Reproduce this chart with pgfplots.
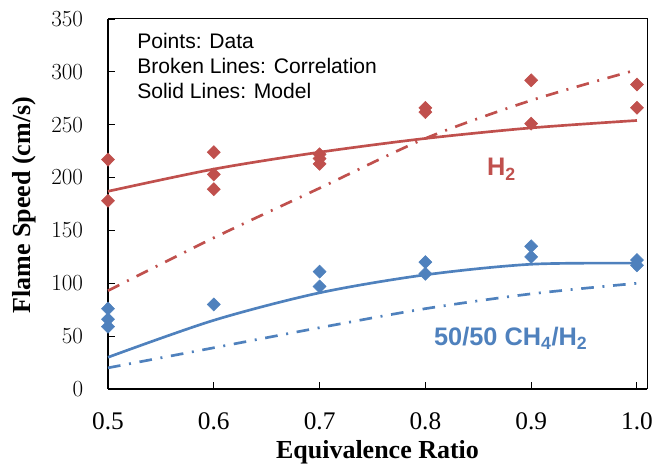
\documentclass[border=0pt]{standalone}
\usepackage{fontspec}
\setmainfont{Liberation Serif}
\setsansfont{Liberation Sans}
\usepackage{pgfplots}
\pgfplotsset{compat=1.18}
\definecolor{cred}{HTML}{C0504D}
\definecolor{cblue}{HTML}{4F81BD}
\begin{document}
\begin{tikzpicture}
\path[use as bounding box] (0,0) rectangle (492pt,349.5pt);
\begin{axis}[
  at={(81pt,57.75pt)}, anchor=south west,
  scale only axis, width=404.25pt, height=277.5pt,
  xmin=0.5, xmax=1.0095, ymin=0, ymax=350,
  axis x line*=bottom, axis y line*=left,
  axis line style={line width=1.5pt, -},
  xtick={0.5,0.6,0.7,0.8,0.9,1.0},
  xticklabels={0.5,0.6,0.7,0.8,0.9,1.0},
  ytick={0,50,...,350},
  tick align=inside,
  major tick length=5pt,
  tick style={black, line width=0.8pt},
  tick label style={font=\fontsize{19}{19}\selectfont, inner sep=0pt, text=black},
  xticklabel style={anchor=center, yshift=-24pt},
  yticklabel style={anchor=east, xshift=-18.5pt},
  xlabel={\textbf{Equivalence Ratio}},
  ylabel={\textbf{Flame Speed (cm/s)}},
  label style={font=\fontsize{19.5}{19.5}\selectfont},
  xlabel style={at={(axis description cs:0.5,-0.17)}, anchor=center, inner sep=0pt},
  ylabel style={at={(axis description cs:-0.156,0.497)}, anchor=center, rotate=0, inner sep=0pt},
  clip=false,
]
\draw[line width=0.75pt] (rel axis cs:0,1) -- (rel axis cs:1,1) -- (rel axis cs:1,0);
% H2 correlation
\addplot[cred, line width=2pt, smooth, dash pattern=on 9.5pt off 6.5pt on 1.5pt off 6.5pt] coordinates {
(0.5,93) (0.6,143) (0.7,190) (0.8,237) (0.9,273) (1.0,302)};
% H2 model
\addplot[cred, line width=2pt, smooth] coordinates {
(0.5,187) (0.6,208) (0.7,224) (0.8,237) (0.9,247) (1.0,254)};
% H2 data
\addplot[only marks, mark=diamond*, mark size=4.9pt, mark options={xscale=1.33}, color=cred, fill=cred] coordinates {
(0.5,217) (0.5,178)
(0.6,224) (0.6,203) (0.6,189)
(0.7,222) (0.7,218) (0.7,213)
(0.8,266) (0.8,262)
(0.9,292) (0.9,251)
(1.0,288) (1.0,266)};
% CH4/H2 correlation
\addplot[cblue, line width=2pt, smooth, dash pattern=on 9.5pt off 6.5pt on 1.5pt off 6.5pt] coordinates {
(0.5,20) (0.6,39) (0.7,58) (0.8,76) (0.9,90) (1.0,100)};
% CH4/H2 model
\addplot[cblue, line width=2pt, smooth] coordinates {
(0.5,30) (0.6,65) (0.7,91) (0.8,108) (0.9,118) (1.0,119)};
% CH4/H2 data
\addplot[only marks, mark=diamond*, mark size=4.9pt, mark options={xscale=1.33}, color=cblue, fill=cblue] coordinates {
(0.5,76) (0.5,66) (0.5,59)
(0.6,80)
(0.7,111) (0.7,97)
(0.8,120) (0.8,109)
(0.9,135) (0.9,125)
(1.0,122) (1.0,117)};
\node[anchor=base west, inner sep=0pt, font=\sffamily\fontsize{15.8}{15.8}\selectfont] at (axis cs:0.5274,321.7) {Points: Data};
\node[anchor=base west, inner sep=0pt, font=\sffamily\fontsize{15.8}{15.8}\selectfont] at (axis cs:0.5274,298.3) {Broken Lines: Correlation};
\node[anchor=base west, inner sep=0pt, font=\sffamily\fontsize{15.8}{15.8}\selectfont] at (axis cs:0.5274,274.9) {Solid Lines: Model};
\node[anchor=base west, inner sep=0pt, text=cred, font=\sffamily\bfseries\fontsize{19}{19}\selectfont] at (axis cs:0.858,201.5) {H\textsubscript{2}};
\node[anchor=base west, inner sep=0pt, text=cblue, font=\sffamily\bfseries\fontsize{19}{19}\selectfont] at (axis cs:0.808,41.6) {50/50 CH\textsubscript{4}/H\textsubscript{2}};
\end{axis}
\end{tikzpicture}
\end{document}
